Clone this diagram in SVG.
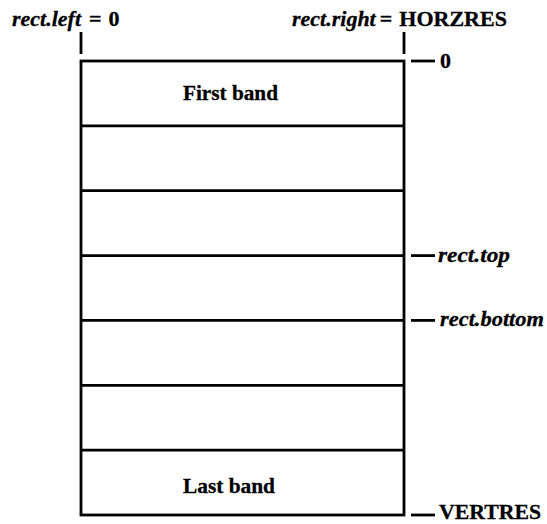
<svg xmlns="http://www.w3.org/2000/svg" width="547" height="524" viewBox="0 0 547 524">
  <style>
    .ln { stroke: #000; stroke-width: 2.8; fill: none; }
    .t { font-family: "Liberation Serif", "Times New Roman", serif; font-size: 22px; font-weight: bold; fill: #000; stroke: #000; stroke-width: 0.3; }
    .i { font-style: italic; }
  </style>
  <rect width="547" height="524" fill="#fff"/>

  <!-- page outline -->
  <g id="page">
    <rect class="ln" x="81" y="61" width="323" height="454"/>
  </g>

  <!-- seven bands of equal height -->
  <g id="bands">
    <line class="ln" x1="81" y1="125.9" x2="404" y2="125.9"/>
    <line class="ln" x1="81" y1="190.7" x2="404" y2="190.7"/>
    <line class="ln" x1="81" y1="255.6" x2="404" y2="255.6"/>
    <line class="ln" x1="81" y1="320.4" x2="404" y2="320.4"/>
    <line class="ln" x1="81" y1="385.3" x2="404" y2="385.3"/>
    <line class="ln" x1="81" y1="450.1" x2="404" y2="450.1"/>
  </g>
  <g id="first-band">
    <text class="t" x="183" y="100" textLength="95" lengthAdjust="spacingAndGlyphs">First band</text>
  </g>
  <g id="last-band">
    <text class="t" x="183" y="493" textLength="92" lengthAdjust="spacingAndGlyphs">Last band</text>
  </g>

  <!-- tick marks -->
  <g id="connectors">
    <line class="ln" x1="81" y1="32" x2="81" y2="54"/>
    <line class="ln" x1="404" y1="32" x2="404" y2="54"/>
    <line class="ln" x1="411" y1="61" x2="435" y2="61"/>
    <line class="ln" x1="411" y1="255.6" x2="435" y2="255.6"/>
    <line class="ln" x1="411" y1="320.4" x2="435" y2="320.4"/>
    <line class="ln" x1="411" y1="515" x2="435" y2="515"/>
  </g>

  <g id="labels">
    <text class="t" x="12" y="26"><tspan class="i">rect.left</tspan><tspan dx="8">=</tspan><tspan dx="7">0</tspan></text>
    <text class="t" x="292" y="26"><tspan class="i">rect.right</tspan><tspan dx="4">=</tspan><tspan dx="7">HORZRES</tspan></text>
    <text class="t" x="440" y="68">0</text>
    <text class="t i" x="438" y="262" textLength="72" lengthAdjust="spacingAndGlyphs">rect.top</text>
    <text class="t i" x="440" y="326" textLength="104" lengthAdjust="spacingAndGlyphs">rect.bottom</text>
    <text class="t" x="439" y="519" font-size="21" textLength="102" lengthAdjust="spacingAndGlyphs">VERTRES</text>
  </g>
</svg>
